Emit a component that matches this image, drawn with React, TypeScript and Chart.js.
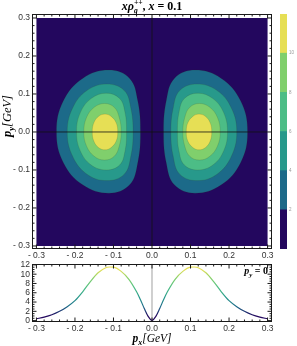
import React, { useEffect, useRef } from "react";
import { Chart, registerables } from "chart.js";

Chart.register(...registerables);

// ---------------- data ----------------
const P_RANGE = [-0.3, 0.3];
const P_TICKS = [-0.3, -0.2, -0.1, 0, 0.1, 0.2, 0.3];
const P_TICK_LABELS = ["- 0.3", "- 0.2", "- 0.1", "0.0", "0.1", "0.2", "0.3"];
const CUT_TICKS = [0, 2, 4, 6, 8, 10, 12];
const CUT_TICK_LABELS = ["0", "2", "4", "6", "8", "10", "12"];
const BAND_EDGES = [0, 2, 4, 6, 8, 10, 12];
const BAND_COLORS = ["#23075e", "#1c6a89", "#27998b", "#4cbd86", "#80cf6c", "#e6df55"];
const BAR_TICKS = [2, 4, 6, 8, 10];

// contour outlines of the left lobe (p_x, p_y) in GeV; the right lobe is its mirror image
const LOBE_2: [number, number][] = [
  [-0.112, 0.163], [-0.058, 0.141], [-0.037, 0.082], [-0.030, 0.0], [-0.037, -0.081],
  [-0.058, -0.139], [-0.112, -0.161], [-0.180, -0.139], [-0.230, -0.081], [-0.248, 0.0],
  [-0.230, 0.082], [-0.180, 0.141],
];
const LOBE_4: [number, number][] = [
  [-0.117, 0.126], [-0.072, 0.109], [-0.055, 0.063], [-0.049, 0.0], [-0.055, -0.064],
  [-0.072, -0.111], [-0.117, -0.128], [-0.169, -0.111], [-0.206, -0.064], [-0.220, 0.0],
  [-0.206, 0.063], [-0.169, 0.109],
];
const LOBE_6: [number, number][] = [
  [-0.119, 0.102], [-0.084, 0.088], [-0.070, 0.051], [-0.066, 0.0], [-0.070, -0.050],
  [-0.084, -0.087], [-0.119, -0.100], [-0.158, -0.087], [-0.186, -0.050], [-0.196, 0.0],
  [-0.186, 0.051], [-0.158, 0.088],
];
const LOBE_8: [number, number][] = [
  [-0.123, 0.075], [-0.098, 0.065], [-0.085, 0.038], [-0.080, 0.0], [-0.085, -0.037],
  [-0.098, -0.064], [-0.123, -0.074], [-0.150, -0.064], [-0.170, -0.037], [-0.177, 0.0],
  [-0.170, 0.038], [-0.150, 0.065],
];
const LOBE_10: [number, number][] = [
  [-0.122, 0.047], [-0.106, 0.041], [-0.093, 0.024], [-0.089, 0.0], [-0.093, -0.024],
  [-0.106, -0.041], [-0.122, -0.047], [-0.139, -0.041], [-0.151, -0.024], [-0.155, 0.0],
  [-0.151, 0.024], [-0.139, 0.041],
];
const LOBES = [LOBE_2, LOBE_4, LOBE_6, LOBE_8, LOBE_10];

// cut of the distribution at p_y = 0
const CUT_PX = [
  -0.30, -0.28, -0.26, -0.24, -0.22, -0.20, -0.18, -0.16, -0.14, -0.12, -0.11, -0.10, -0.08, -0.06, -0.04, -0.03, -0.02, -0.01, 0,
  0.01, 0.02, 0.03, 0.04, 0.06, 0.08, 0.10, 0.11, 0.12, 0.14, 0.16, 0.18, 0.20, 0.22, 0.24, 0.26, 0.28, 0.30,
];
const CUT_VALUES = [
  0.4, 0.75, 1.25, 2.0, 3.0, 4.3, 6.2, 8.4, 10.3, 11.4, 11.55, 11.5, 10.6, 8.9, 6.2, 4.5, 2.6, 0.9, 0.05,
  0.9, 2.6, 4.5, 6.2, 8.9, 10.6, 11.5, 11.55, 11.4, 10.3, 8.4, 6.2, 4.3, 3.0, 2.0, 1.25, 0.75, 0.4,
];

// ---------------- helpers ----------------
const SERIF = '"Liberation Serif", "DejaVu Serif", serif';
const SANS = '"Liberation Sans", Arial, sans-serif';
const TICK_FONT = { family: '"Liberation Sans", Arial, sans-serif', size: 8.5 };
const INK = "#1a1a1a";

type Piece = { t: string; f: string; dy: number };
type Run = { t?: string; f?: string; dy?: number; stack?: Piece[] };

function runWidth(ctx: CanvasRenderingContext2D, r: Run) {
  if (r.stack) {
    return Math.max(...r.stack.map((s) => { ctx.font = s.f; return ctx.measureText(s.t).width; }));
  }
  ctx.font = r.f as string;
  return ctx.measureText(r.t as string).width;
}

function drawRuns(ctx: CanvasRenderingContext2D, runs: Run[], x: number, y: number, align: string) {
  ctx.save();
  ctx.textAlign = "left";
  ctx.textBaseline = "alphabetic";
  ctx.fillStyle = "#000";
  const widths = runs.map((r) => runWidth(ctx, r));
  const total = widths.reduce((a, b) => a + b, 0);
  let cx = align === "center" ? x - total / 2 : align === "right" ? x - total : x;
  runs.forEach((r, i) => {
    if (r.stack) {
      r.stack.forEach((s) => { ctx.font = s.f; ctx.fillText(s.t, cx, y + s.dy); });
    } else {
      ctx.font = r.f as string;
      ctx.fillText(r.t as string, cx, y + (r.dy || 0));
    }
    cx += widths[i];
  });
  ctx.restore();
}

function range(a: number, b: number, step: number) {
  const out: number[] = [];
  const n = Math.round((b - a) / step);
  for (let i = 0; i <= n; i++) out.push(+(a + i * step).toFixed(6));
  return out;
}

function framePlugin(xMajor: number[], xMinor: number[], yMajor: number[], yMinor: number[]) {
  return {
    id: "mmaFrame",
    afterDraw(chart: any) {
      const { ctx, chartArea: a, scales } = chart;
      const L = Math.round(a.left) + 0.5, R = Math.round(a.right) - 0.5;
      const T = Math.round(a.top) + 0.5, B = Math.round(a.bottom) - 0.5;
      ctx.save();
      ctx.strokeStyle = INK;
      ctx.lineWidth = 1;
      ctx.strokeRect(L, T, R - L, B - T);
      ctx.beginPath();
      const xt = (vals: number[], len: number) => vals.forEach((v) => {
        const px = scales.x.getPixelForValue(v);
        ctx.moveTo(px, B); ctx.lineTo(px, B - len);
        ctx.moveTo(px, T); ctx.lineTo(px, T + len);
      });
      const yt = (vals: number[], len: number) => vals.forEach((v) => {
        const py = scales.y.getPixelForValue(v);
        ctx.moveTo(L, py); ctx.lineTo(L + len, py);
        ctx.moveTo(R, py); ctx.lineTo(R - len, py);
      });
      xt(xMajor, 4); xt(xMinor, 2); yt(yMajor, 4); yt(yMinor, 2);
      ctx.stroke();
      ctx.restore();
    },
  };
}

const closedLoopPlugin = {
  id: "closedLoop",
  afterDatasetUpdate(chart: any, args: any) {
    const ds: any = chart.data.datasets[args.index];
    const line: any = args.meta.dataset;
    if (ds && ds.closed && line) { line._loop = true; line._fullLoop = true; }
  },
};

function fixedTicks(values: number[]) {
  return (s: any) => { s.ticks = values.map((v) => ({ value: v })); };
}
function labelFor(values: number[], labels: string[]) {
  return (v: any) => {
    const i = values.findIndex((t) => Math.abs(t - Number(v)) < 1e-9);
    return i >= 0 ? labels[i] : "";
  };
}

const P_MINOR = range(-0.3, 0.3, 0.02).filter((v) => !P_TICKS.some((t) => Math.abs(t - v) < 1e-9));
const CUT_MINOR = range(0, 12, 0.5).filter((v) => !CUT_TICKS.some((t) => Math.abs(t - v) < 1e-9));
const P_AXIS = [-0.3115, 0.3115];
const PY_AXIS = [-0.308, 0.3105];
const CUT_AXIS = [-0.3, 12.3];

export default function App() {
  const mainRef = useRef<HTMLCanvasElement>(null);
  const cutRef = useRef<HTMLCanvasElement>(null);
  const barRef = useRef<HTMLCanvasElement>(null);

  useEffect(() => {
    const charts: Chart[] = [];

    // ---------- contour plot ----------
    const datasets: any[] = [];
    datasets.push({
      data: [
        { x: P_RANGE[0], y: P_RANGE[0] }, { x: P_RANGE[1], y: P_RANGE[0] },
        { x: P_RANGE[1], y: P_RANGE[1] }, { x: P_RANGE[0], y: P_RANGE[1] },
      ],
      closed: true, fill: "shape", backgroundColor: BAND_COLORS[0], borderWidth: 0,
      pointRadius: 0, tension: 0, order: 50,
    });
    LOBES.forEach((lobe, i) => {
      [1, -1].forEach((sign) => {
        datasets.push({
          data: lobe.map(([x, y]) => ({ x: sign * x, y })),
          closed: true, fill: "shape", backgroundColor: BAND_COLORS[i + 1],
          borderColor: "rgba(60,40,0,0.22)", borderWidth: 0.6, pointRadius: 0,
          tension: 0.4, order: 40 - i,
        });
      });
    });
    datasets.push({
      data: [{ x: P_RANGE[0], y: 0 }, { x: P_RANGE[1], y: 0 }],
      fill: false, borderColor: "#111", borderWidth: 0.8, pointRadius: 0, order: 1,
    });
    datasets.push({
      data: [{ x: 0, y: P_RANGE[0] }, { x: 0, y: P_RANGE[1] }],
      fill: false, borderColor: "#111", borderWidth: 0.8, pointRadius: 0, order: 1,
    });

    const mainTitles = {
      id: "mainTitles",
      afterDraw(chart: any) {
        const ctx = chart.ctx as CanvasRenderingContext2D;
        const big = `bold 12px ${SERIF}`, bigI = `bold italic 12px ${SERIF}`, sc = `bold italic 7.5px ${SERIF}`;
        drawRuns(ctx, [
          { t: "xρ", f: bigI },
          { stack: [{ t: "++", f: sc, dy: -5 }, { t: "g", f: sc, dy: 2.5 }] },
          { t: ", ", f: big }, { t: "x", f: bigI }, { t: " = 0.1", f: big },
        ], 152, 10, "center");
        ctx.save();
        ctx.translate(11, 116);
        ctx.rotate(-Math.PI / 2);
        drawRuns(ctx, [
          { t: "p", f: `bold italic 12.5px ${SERIF}` },
          { t: "y", f: `bold italic 8.5px ${SERIF}`, dy: 3 },
          { t: "[GeV]", f: `italic 12.5px ${SERIF}` },
        ], 0, 0, "center");
        ctx.restore();
      },
    };

    charts.push(new Chart(mainRef.current as HTMLCanvasElement, {
      type: "line",
      data: { datasets },
      plugins: [closedLoopPlugin, framePlugin(P_TICKS, P_MINOR, P_TICKS, P_MINOR), mainTitles],
      options: {
        animation: false, responsive: false, devicePixelRatio: 1,
        layout: { padding: { top: 14, right: 25, left: 0, bottom: 0 } },
        plugins: { legend: { display: false }, tooltip: { enabled: false } },
        scales: {
          x: {
            type: "linear", min: P_AXIS[0], max: P_AXIS[1],
            afterBuildTicks: fixedTicks(P_TICKS),
            afterFit: (s: any) => { s.height = 13; },
            ticks: { callback: labelFor(P_TICKS, P_TICK_LABELS), font: TICK_FONT, color: "#333", padding: 2, maxRotation: 0, autoSkip: false },
            grid: { display: false, drawTicks: false }, border: { display: false },
          },
          y: {
            type: "linear", min: PY_AXIS[0], max: PY_AXIS[1],
            afterBuildTicks: fixedTicks(P_TICKS),
            afterFit: (s: any) => { s.width = 32; },
            ticks: { callback: labelFor(P_TICKS, P_TICK_LABELS), font: TICK_FONT, color: "#333", padding: 2, autoSkip: false },
            grid: { display: false, drawTicks: false }, border: { display: false },
          },
        },
      } as any,
    }));

    // ---------- colour bar ----------
    charts.push(new Chart(barRef.current as HTMLCanvasElement, {
      type: "bar",
      data: {
        labels: ["z"],
        datasets: BAND_COLORS.map((c, i) => ({
          data: [BAND_EDGES[i + 1] - BAND_EDGES[i]], backgroundColor: c, borderWidth: 0,
          barPercentage: 1, categoryPercentage: 1,
        })),
      },
      options: {
        animation: false, responsive: false, devicePixelRatio: 1,
        layout: { padding: { top: 14, right: 0, left: 4, bottom: 13 } },
        plugins: { legend: { display: false }, tooltip: { enabled: false } },
        scales: {
          x: { display: false, stacked: true },
          y: {
            stacked: true, position: "right", min: BAND_EDGES[0], max: BAND_EDGES[BAND_EDGES.length - 1],
            afterBuildTicks: fixedTicks(BAR_TICKS),
            afterFit: (s: any) => { s.width = 10; },
            ticks: { font: { family: SANS, size: 4.5 }, color: "#999", padding: 2, autoSkip: false },
            grid: { display: false, drawTicks: false }, border: { display: false },
          },
        },
      } as any,
    }));

    // ---------- cut at p_y = 0 ----------
    const cutTitles = {
      id: "cutTitles",
      afterDraw(chart: any) {
        const ctx = chart.ctx as CanvasRenderingContext2D;
        drawRuns(ctx, [
          { t: "p", f: `bold italic 11.5px ${SERIF}` },
          { t: "x", f: `bold italic 8px ${SERIF}`, dy: 2.5 },
          { t: "[GeV]", f: `italic 11.5px ${SERIF}` },
        ], 152, 86, "center");
        drawRuns(ctx, [
          { t: "p", f: `bold italic 10px ${SERIF}` },
          { t: "y", f: `bold italic 7px ${SERIF}`, dy: 2.5 },
          { t: " = 0", f: `bold 10px ${SERIF}` },
        ], 268, 18, "right");
      },
    };

    charts.push(new Chart(cutRef.current as HTMLCanvasElement, {
      type: "line",
      data: {
        datasets: [
          {
            data: [{ x: 0, y: CUT_AXIS[0] }, { x: 0, y: CUT_AXIS[1] }],
            fill: false, borderColor: "#c4c4c4", borderWidth: 1.6, pointRadius: 0, order: 2,
          },
          {
            data: CUT_PX.map((x, i) => ({ x, y: CUT_VALUES[i] })),
            fill: false, borderWidth: 1.2, pointRadius: 0, cubicInterpolationMode: "monotone", order: 1,
            borderColor: (c: any) => {
              const chart = c.chart;
              const y = chart.scales && chart.scales.y;
              if (!chart.chartArea || !y) return BAND_COLORS[2];
              const g = chart.ctx.createLinearGradient(0, y.getPixelForValue(0), 0, y.getPixelForValue(12));
              BAND_COLORS.forEach((col: string, i: number) => {
                g.addColorStop((BAND_EDGES[i] + BAND_EDGES[i + 1]) / 2 / 12, col);
              });
              return g;
            },
          },
        ],
      },
      plugins: [framePlugin(P_TICKS, P_MINOR, CUT_TICKS, CUT_MINOR), cutTitles],
      options: {
        animation: false, responsive: false, devicePixelRatio: 1,
        layout: { padding: { top: 7.5, right: 25, left: 0, bottom: 0 } },
        plugins: { legend: { display: false }, tooltip: { enabled: false } },
        scales: {
          x: {
            type: "linear", min: P_AXIS[0], max: P_AXIS[1],
            afterBuildTicks: fixedTicks(P_TICKS),
            afterFit: (s: any) => { s.height = 24; },
            ticks: { callback: labelFor(P_TICKS, P_TICK_LABELS), font: TICK_FONT, color: "#333", padding: 2, maxRotation: 0, autoSkip: false },
            grid: { display: false, drawTicks: false }, border: { display: false },
          },
          y: {
            type: "linear", min: CUT_AXIS[0], max: CUT_AXIS[1],
            afterBuildTicks: fixedTicks(CUT_TICKS),
            afterFit: (s: any) => { s.width = 32; },
            ticks: { callback: labelFor(CUT_TICKS, CUT_TICK_LABELS), font: TICK_FONT, color: "#333", padding: 2, autoSkip: false },
            grid: { display: false, drawTicks: false }, border: { display: false },
          },
        },
      } as any,
    }));

    return () => charts.forEach((c) => c.destroy());
  }, []);

  return (
    <div style={{ position: "absolute", left: 0, top: 0, width: 297, height: 346, background: "#fff", overflow: "hidden" }}>
      <canvas ref={mainRef} width={297} height={262} style={{ position: "absolute", left: 0, top: 0, width: 297, height: 262 }} />
      <canvas ref={barRef} width={21} height={262} style={{ position: "absolute", left: 276, top: 0, width: 21, height: 262 }} />
      <canvas ref={cutRef} width={297} height={90} style={{ position: "absolute", left: 0, top: 256, width: 297, height: 90 }} />
    </div>
  );
}
